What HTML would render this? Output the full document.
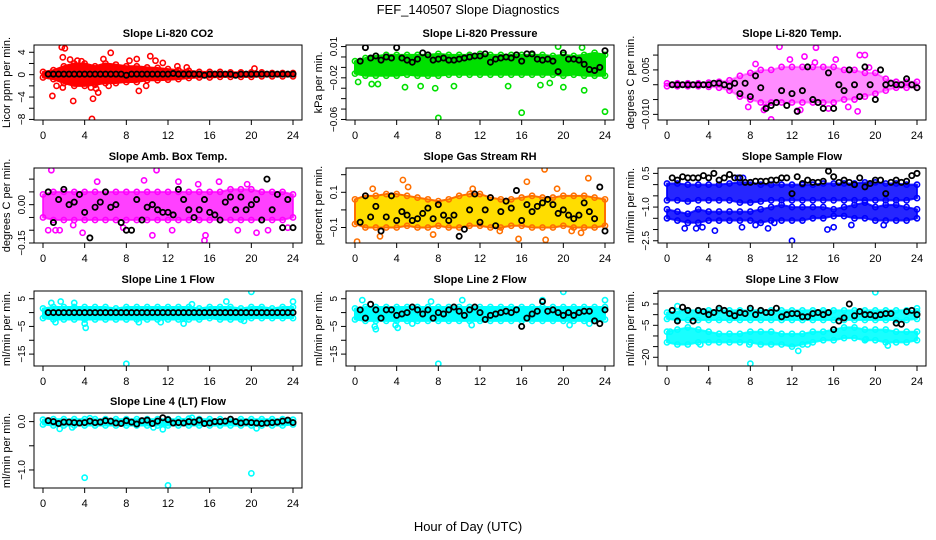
<!DOCTYPE html>
<html><head><meta charset="utf-8"><style>
html,body{margin:0;padding:0;background:#fff}
svg{display:block;font-family:"Liberation Sans",sans-serif}
</style></head><body>
<svg id="chart" width="936" height="540" viewBox="0 0 936 540">
<rect width="936" height="540" fill="#fff"/>
<text x="468" y="14" text-anchor="middle" font-size="13">FEF_140507  Slope Diagnostics</text>
<text x="468" y="531" text-anchor="middle" font-size="13">Hour of Day (UTC)</text>
</svg>
<script>
const bandHours=[0,1,2,3,4,5,6,7,8,9,10,11,12,13,14,15,16,17,18,19,20,21,22,23,24];
const blackHours=[0.5,1,1.5,2,2.5,3,3.5,4,4.5,5,5.5,6,6.5,7,7.5,8,8.5,9,9.5,10,10.5,11,11.5,12,12.5,13,13.5,14,14.5,15,15.5,16,16.5,17,17.5,18,18.5,19,19.5,20,20.5,21,21.5,22,22.5,23,23.5,24];
const xTicks=[0,4,8,12,16,20,24];

const co2Hi=[0.5,0.8,1.5,2,2,1.5,2,1.8,1.5,1.5,1.3,1.2,1,0.8,0.7,0.5,0.5,0.5,0.4,0.4,0.4,0.4,0.3,0.3,0.3];
const co2Lo=[-0.5,-0.8,-1.5,-2,-2,-1.8,-1.5,-1.5,-1.3,-1.3,-1,-1,-0.9,-0.8,-0.6,-0.5,-0.5,-0.4,-0.4,-0.4,-0.4,-0.3,-0.3,-0.3,-0.3];
const co2OutH=[1.8,2.1,1.9,0.9,2.9,4.7,4.8,4.6,5.1,5.3,5.8,6.5,6.3,8.3,9,9.2,9.9,10.3,10.8,11.5,1.3,3.3,3.7,2.6,1.9,12.9,13.8,20.3];
const co2OutV=[4.9,4.7,3.1,-3.8,-4.7,-7.9,-4.3,-2.3,-2.5,-3.2,2.8,3.9,-2,2.5,2.8,-2.9,-2,3.3,2.5,2.1,-2,2.5,2.4,2.7,-2.3,1.5,1.3,1.1];
const co2Black=[0.1,0.1,0.1,0.1,0.1,0.1,0.1,0.1,0.1,0.1,0.1,0.1,0.1,0.1,0.1,-0.1,0.1,0.1,0.1,0.1,0.1,0.1,0.1,0.1,0.2,0.1,0.1,0.1,0.1,0.1,-0.1,0.1,0.1,0.1,0.1,0.1,-0.1,0.1,0.1,0.1,0.1,0.1,0.1,0.1,0.1,0.1,0.1,0.1];

const presHi=[-0.004,-0.001,0.001,0.002,0.002,0.002,0.002,0.002,0.003,0.002,0.002,0.002,0.003,0.002,0.002,0.002,0.002,0.002,0.002,0.001,0.002,0.001,0.002,0.004,0.002];
const presLo=[-0.016,-0.018,-0.018,-0.018,-0.018,-0.017,-0.018,-0.018,-0.018,-0.017,-0.017,-0.017,-0.017,-0.017,-0.017,-0.017,-0.017,-0.017,-0.017,-0.017,-0.018,-0.017,-0.018,-0.018,-0.018];
const presOutH=[8,16,24,4.8,7.7,22,19.5,21.8,20,9.5,14.7,17.8,18.7,0.3,1.6,2.2,6.3];
const presOutV=[-0.0585,-0.0535,-0.0525,-0.029,-0.03,-0.032,0.01,0.009,-0.029,-0.028,-0.028,-0.027,-0.025,-0.024,-0.026,-0.026,-0.028];
const presBlack=[-0.004,0.009,-0.001,0.001,-0.003,0.000,-0.001,0.009,-0.001,-0.003,-0.005,-0.002,0.004,0.002,-0.003,-0.002,-0.001,-0.003,-0.003,-0.002,-0.001,0.000,0.001,0.001,0.003,-0.005,-0.002,-0.001,0.000,-0.001,0.002,-0.004,0.003,0.003,-0.002,-0.003,-0.002,-0.004,-0.014,0.004,-0.002,-0.002,-0.003,-0.007,-0.012,-0.013,-0.010,0.006];

const tempHi=[0.0005,0.0005,0.0005,0.0005,0.0007,0.001,0.0015,0.003,0.004,0.005,0.005,0.006,0.006,0.006,0.006,0.006,0.006,0.005,0.005,0.004,0.004,0.002,0.001,0.001,0.001];
const tempLo=[-0.0005,-0.0005,-0.0005,-0.0005,-0.0007,-0.001,-0.002,-0.004,-0.005,-0.006,-0.006,-0.006,-0.006,-0.006,-0.006,-0.006,-0.006,-0.005,-0.005,-0.004,-0.003,-0.002,-0.001,-0.001,-0.001];
const tempOutH=[10.8,14.3,18.5,19,10,18.3,12.5,7.8,9.5,13.2,16.2,11.8,14.2,9.3,17.4,19.4,15.5,8.5,12.8];
const tempOutV=[0.0128,0.0125,0.010,0.010,-0.0117,-0.009,-0.0088,-0.0075,-0.0075,0.0095,0.0085,0.0085,0.0075,-0.0085,-0.0075,0.0058,-0.008,0.007,-0.0085];
const tempBlack=[0,0,0,0,0,0,0,0,0.0005,0.0005,0,-0.0005,0.0005,-0.003,0.0005,-0.004,0.003,-0.001,-0.008,-0.007,-0.006,-0.002,-0.007,-0.003,-0.009,-0.002,0.006,-0.005,-0.006,-0.008,0.004,-0.008,0,-0.002,0.005,0,-0.004,0.006,0,-0.005,0.005,0,0.0005,0,0,0.002,0,-0.001];

const ambHi=[0.04,0.05,0.05,0.05,0.05,0.05,0.05,0.05,0.05,0.05,0.05,0.05,0.05,0.05,0.05,0.05,0.05,0.05,0.06,0.06,0.06,0.05,0.05,0.05,0.04];
const ambLo=[-0.05,-0.06,-0.06,-0.06,-0.06,-0.06,-0.06,-0.06,-0.06,-0.06,-0.06,-0.06,-0.06,-0.06,-0.06,-0.06,-0.06,-0.06,-0.06,-0.06,-0.06,-0.06,-0.06,-0.06,-0.05];
const ambOutH=[0.8,10.9,9.7,1.2,3.8,15.5,15.6,10.5,5.2,0.5,1.6,13,14.9,18.7,20.5,21.6,23.5,2.9,7.7,12.4,16.9,19.6];
const ambOutV=[0.135,0.135,0.095,-0.1,-0.11,-0.14,-0.12,-0.12,0.09,-0.1,-0.1,0.09,0.08,-0.1,-0.11,-0.1,-0.09,-0.08,-0.09,-0.1,0.09,0.08];
const ambBlack=[0.05,-0.07,0.02,0.06,0.0,0.01,0.04,-0.03,-0.13,-0.01,0.01,0.05,-0.01,0.0,-0.07,-0.1,-0.1,0.02,-0.06,-0.01,0.0,-0.02,-0.03,-0.03,-0.04,0.06,0.02,-0.02,-0.05,-0.02,0.02,-0.03,-0.04,-0.06,0.01,0.03,-0.02,0.03,-0.02,0.0,0.02,-0.06,0.1,-0.02,0.04,-0.09,0.02,-0.09];

const rhHi=[0.06,0.08,0.08,0.09,0.09,0.08,0.07,0.06,0.05,0.06,0.08,0.09,0.09,0.07,0.06,0.06,0.07,0.08,0.07,0.07,0.08,0.08,0.08,0.07,0.06];
const rhLo=[-0.08,-0.1,-0.1,-0.1,-0.1,-0.09,-0.1,-0.1,-0.09,-0.1,-0.1,-0.09,-0.09,-0.1,-0.1,-0.09,-0.09,-0.1,-0.1,-0.1,-0.09,-0.1,-0.1,-0.1,-0.09];
const rhOutH=[18.2,22.4,0.2,2.4,18.3,15.7,11.3,4.6,16.5,7.5,19.4,5.1,13.9,20.8,21.7,1.7];
const rhOutV=[0.23,0.18,-0.18,-0.15,-0.17,-0.165,0.12,0.17,0.16,-0.14,0.12,0.13,-0.12,-0.12,-0.13,0.12];
const rhBlack=[-0.07,0.08,-0.04,0.02,-0.12,-0.04,0.08,-0.06,-0.01,-0.03,-0.06,-0.05,-0.02,0.01,-0.05,0.03,-0.03,-0.06,-0.03,-0.15,-0.11,0.0,0.09,-0.07,0.0,0.07,-0.09,-0.01,0.05,0.01,0.11,-0.06,0.03,-0.01,0.02,0.04,0.06,0.03,-0.02,0.0,-0.03,-0.05,-0.03,0.04,-0.01,-0.05,0.13,-0.12];

const flowHi=[0.05,0.05,0.0,0.0,0.0,0.0,0.05,0.1,0.1,0.0,0.0,0.0,0.0,0.0,0.0,0.05,0.05,0.05,0.05,0.1,0.1,0.05,0.05,0.0,0.0];
const flowLo=[-0.7,-0.7,-0.75,-0.7,-0.7,-0.7,-0.7,-0.8,-0.8,-0.75,-0.7,-0.7,-0.7,-0.7,-0.7,-0.7,-0.7,-0.7,-0.7,-0.7,-0.7,-0.7,-0.7,-0.7,-0.6];
const flow2Hi=[-1.1,-1.2,-1.3,-1.1,-1.2,-1.2,-1.2,-1.2,-1.2,-1.1,-1.0,-0.9,-1.0,-1.0,-1.0,-1.0,-1.1,-1.0,-0.9,-0.8,-1.0,-0.9,-0.9,-1.0,-1.1];
const flow2Lo=[-1.5,-1.6,-1.7,-1.7,-1.6,-1.6,-1.6,-1.6,-1.6,-1.7,-1.6,-1.6,-1.6,-1.6,-1.5,-1.5,-1.4,-1.4,-1.5,-1.5,-1.6,-1.6,-1.6,-1.6,-1.5];
const flowOutH=[12,4.6,15.4,16,1.7,2.8,7.2,9.7,6.8,7.3,3.4,20.8,17.7,8.5,10.3];
const flowOutV=[-2.5,-2.05,-2.0,-1.9,-1.95,-1.95,-1.9,-1.95,0.3,0.3,-1.9,-1.8,-1.8,-1.8,-1.7];
const flowBlack=[0.3,0.2,0.35,0.3,0.3,0.3,0.4,0.3,0.5,0.2,0.3,0.45,0.3,0.3,0.1,0.1,0.15,0.15,0.15,0.2,0.2,0.3,0.3,-0.4,0.35,0.05,0.2,0.1,0.1,0.15,0.6,0.35,0.1,0.2,0.1,0.0,0.3,-0.1,0.05,0.2,0.2,-0.4,0.1,0.2,0.1,0.15,0.4,0.5];

const l1Hi=[1.5,2,2,2,2,2,2,1.5,2,2,2,2,2,2,2,1.5,2,2,2,1.5,2,2,1.5,2,2];
const l1Lo=[-2,-2.5,-2.5,-2.5,-2.5,-2.5,-2.5,-2.5,-2.5,-2.5,-2.5,-2.5,-2.5,-2.5,-2.5,-2.5,-2,-2.5,-2.5,-2.5,-2,-2,-2,-2,-2];
const l1OutH=[8,20,24,4,4.1,1.2,0.8,1.7,3,9.2,11.3,13.5,17.6,19.3,14.3];
const l1OutV=[-18.5,7.5,4,-4,-5.5,-3.5,3.5,4,3.5,-3.5,-3.5,-4,4,-3,3];
const l1Black=[0,0,0,0,0,0,0,0,0,0,0,0,0,0,0,0,0,0,0,0,0,0,0,0,0,0,0,0,0,0,0,0,0,0,0,0,0,0,0,0,0,0,0,0,0,0,0,0];

const l2Hi=[1.5,2,2,2,2,2,2,2,2,2,2,2,2,2,2,2,2,2,2,2,2,2,2,2,2];
const l2Lo=[-2.5,-3,-3,-3,-3,-3,-3,-3,-3,-3,-3,-3,-3,-3,-3,-3,-3,-3,-3,-3,-3,-3,-3,-3,-2.5];
const l2OutH=[8,20,24,0.7,1.9,2,3.9,4.1,10.3,22.5,20.6,18,7.3,5.5,11.2];
const l2OutV=[-18.5,7.5,4.5,4.5,-5,-6,-4.5,-5.5,4.5,-4,-4.5,4.5,4,-4,-4.5];
const l2Black=[1,-2,3,1,-2,1,1,-1,-0.5,0,2,1,-0.5,1,-2,0,-0.5,1,2,0.5,-1,1,2,0,-2.5,-1,-0.5,0,0.5,0,1,-5,-2,-0.5,0.5,4,0.5,1,0,-1,0,-1,0,0.5,0.5,-3,-4,1];

const l3Hi=[1,1.5,2,2,2,2,2,2,2,2,2,2,2,2,2,2,2,2,2,2,2,2,2,2,1.5];
const l3Lo=[-2,-2.5,-2.5,-2.5,-2.5,-2.5,-2.5,-2.5,-2.5,-2.5,-2.5,-2.5,-2.5,-2.5,-2.5,-2.5,-2.5,-2.5,-2.5,-2.5,-2.5,-2.5,-2.5,-2.5,-2];
const l32Hi=[-8,-7,-6,-7,-8,-9,-9,-9,-8,-8,-8,-9,-9,-9,-8,-8,-7,-6,-6,-7,-7,-7,-8,-8,-8];
const l32Lo=[-13,-14,-14,-13,-13,-13,-13,-13,-13,-14,-14,-14,-15,-14,-13,-12,-12,-11,-11,-12,-12,-13,-13,-13,-12];
const l3OutH=[8,20,1,3.2,24,12.6,13.5,7.9,21.2,19.1,0.3];
const l3OutV=[-23,10.5,4,-14,3,-17,-14,-14,-14.5,-11.5,-8];
const l3Black=[2,-3,3.5,2,-3,2,1.5,0,1,3,2,0.5,-0.5,1,0.5,3,0,2,1,1,3,-1,0,0.5,0.5,-1,-1,0.5,1,0,1,-7,-3,-1.5,5,-0.5,1.5,0,0,-0.5,0,0.5,0.5,-4,-4.5,1.5,2,0];

const l4Hi=[0.04,0.05,0.05,0.05,0.05,0.05,0.05,0.05,0.05,0.05,0.05,0.05,0.05,0.05,0.06,0.05,0.05,0.05,0.05,0.05,0.05,0.05,0.05,0.05,0.04];
const l4Lo=[-0.06,-0.08,-0.08,-0.08,-0.08,-0.08,-0.08,-0.08,-0.08,-0.08,-0.08,-0.08,-0.08,-0.08,-0.08,-0.08,-0.08,-0.08,-0.08,-0.08,-0.08,-0.08,-0.08,-0.08,-0.06];
const l4OutH=[4,12,20,1.6,2.8,11.5,20.5,10.6,4.5,14.3];
const l4OutV=[-1.16,-1.32,-1.07,-0.15,-0.12,-0.16,-0.14,-0.12,0.07,0.08];
const l4Black=[0.02,0,-0.04,-0.01,-0.01,-0.02,-0.03,-0.02,0.01,-0.02,-0.01,0.02,0.01,-0.03,-0.04,0.02,-0.01,-0.05,0.02,0.03,-0.04,0.01,0.08,0.04,-0.03,-0.02,-0.03,0.0,-0.01,0.03,-0.04,-0.03,0.0,0.0,0.01,0.05,0.0,-0.03,-0.01,-0.02,-0.03,-0.04,-0.03,-0.02,-0.01,0.01,0.03,-0.02];

const NS="http://www.w3.org/2000/svg";
const svg=document.getElementById('chart');
const colLeft=[34,346,658], rowTop=[45,168,291,413], boxW=268, boxH=75;

const panels=[
 {key:'co2',title:'Slope Li-820 CO2',ylab:'Licor ppm per min.',c:0,r:0,ymin:-8.1,ymax:5.3,ticks:[4,2,0,-2,-4,-6,-8],labels:[4,0,-4,-8],labTxt:['4','0','\u22124','\u22128'],color:'#ff0000',bands:[[co2Hi,co2Lo]],oh:co2OutH,ov:co2OutV,blk:co2Black},
 {key:'pressure',title:'Slope Li-820 Pressure',ylab:'kPa per min.',c:1,r:0,ymin:-0.0605,ymax:0.0115,ticks:[0.01,0,-0.01,-0.02,-0.03,-0.04,-0.05,-0.06],labels:[0.01,-0.02,-0.06],labTxt:['0.01','\u22120.02','\u22120.06'],color:'#00e000',bands:[[presHi,presLo]],oh:presOutH,ov:presOutV,blk:presBlack},
 {key:'temp',title:'Slope Li-820 Temp.',ylab:'degrees C per min.',c:2,r:0,ymin:-0.0119,ymax:0.0134,ticks:[0.01,0.005,0,-0.005,-0.01],labels:[0.005,-0.01],labTxt:['0.005','\u22120.010'],color:'#ff00ff',bands:[[tempHi,tempLo]],op:0.45,oh:tempOutH,ov:tempOutV,blk:tempBlack},
 {key:'amb-box-temp',title:'Slope Amb. Box Temp.',ylab:'degrees C per min.',c:0,r:1,ymin:-0.15,ymax:0.1435,ticks:[0.1,0.05,0,-0.05,-0.1,-0.15],labels:[0,-0.15],labTxt:['0.00','\u22120.15'],color:'#ff00ff',bands:[[ambHi,ambLo]],op:0.75,oh:ambOutH,ov:ambOutV,blk:ambBlack},
 {key:'gas-rh',title:'Slope Gas Stream RH',ylab:'percent per min.',c:1,r:1,ymin:-0.188,ymax:0.238,ticks:[0.2,0.1,0,-0.1],labels:[0.1,-0.1],labTxt:['0.1','\u22120.1'],color:'#ff7000',fill:'#ffdd00',bands:[[rhHi,rhLo]],oh:rhOutH,ov:rhOutV,blk:rhBlack},
 {key:'sample-flow',title:'Slope Sample Flow',ylab:'ml/min per min.',c:2,r:1,ymin:-2.6,ymax:0.74,ticks:[0.5,0,-0.5,-1,-1.5,-2,-2.5],labels:[0.5,-1,-2.5],labTxt:['0.5','\u22121.0','\u22122.5'],color:'#0000ff',bands:[[flowHi,flowLo],[flow2Hi,flow2Lo]],op:0.85,oh:flowOutH,ov:flowOutV,blk:flowBlack},
 {key:'line1-flow',title:'Slope Line 1 Flow',ylab:'ml/min per min.',c:0,r:2,ymin:-19.3,ymax:7.8,ticks:[5,0,-5,-10,-15],labels:[5,-5,-15],labTxt:['5','\u22125','\u221215'],color:'#00ffff',bands:[[l1Hi,l1Lo]],oh:l1OutH,ov:l1OutV,blk:l1Black},
 {key:'line2-flow',title:'Slope Line 2 Flow',ylab:'ml/min per min.',c:1,r:2,ymin:-19.3,ymax:7.8,ticks:[5,0,-5,-10,-15],labels:[5,-5,-15],labTxt:['5','\u22125','\u221215'],color:'#00ffff',bands:[[l2Hi,l2Lo]],oh:l2OutH,ov:l2OutV,blk:l2Black},
 {key:'line3-flow',title:'Slope Line 3 Flow',ylab:'ml/min per min.',c:2,r:2,ymin:-24.1,ymax:11.1,ticks:[10,5,0,-5,-10,-15,-20],labels:[5,-5,-20],labTxt:['5','\u22125','\u221220'],color:'#00ffff',bands:[[l3Hi,l3Lo],[l32Hi,l32Lo]],op:0.9,oh:l3OutH,ov:l3OutV,blk:l3Black},
 {key:'line4-flow',title:'Slope Line 4 (LT) Flow',ylab:'ml/min per min.',c:0,r:3,ymin:-1.373,ymax:0.178,ticks:[0,-0.5,-1],labels:[0,-1],labTxt:['0.0','\u22121.0'],color:'#00ffff',bands:[[l4Hi,l4Lo]],oh:l4OutH,ov:l4OutV,blk:l4Black}
];

function mk(tag,attrs,parent){const e=document.createElementNS(NS,tag);for(const k in attrs)e.setAttribute(k,attrs[k]);(parent||svg).appendChild(e);return e;}

panels.forEach(p=>{
  const L=colLeft[p.c],T=rowTop[p.r],B=T+boxH;
  const xs=h=>L+9+h*(boxW-18)/24;
  const ys=v=>T+(p.ymax-v)/(p.ymax-p.ymin)*boxH;
  const g=mk('g',{});
  
  
  const clip=mk('clipPath',{id:'clip-'+p.key},g);
  mk('rect',{x:L,y:T,width:boxW,height:boxH},clip);
  const plot=mk('g',{'clip-path':'url(#clip-'+p.key+')'},g);
  
  
  p.bands.forEach((bd,bi)=>{
    const hi=bd[0],lo=bd[1];
    let pts=[];
    bandHours.forEach((h,i)=>pts.push(xs(h)+','+ys(hi[i])));
    for(let i=bandHours.length-1;i>=0;i--)pts.push(xs(bandHours[i])+','+ys(lo[i]));
    const poly=mk('polygon',{points:pts.join(' '),fill:p.fill||p.color,'fill-opacity':p.op||1,stroke:p.color,'stroke-width':2,'stroke-opacity':p.op||1,'stroke-linejoin':'round'},plot);
    
    
    bandHours.forEach((h,i)=>{
      [hi[i],lo[i]].forEach(v=>{
        const c=mk('circle',{cx:xs(h),cy:ys(v),r:2.6,fill:'none',stroke:p.color,'stroke-width':1.6},plot);
        
        
      });
    });
  });
  p.oh.forEach((h,i)=>{
    const c=mk('circle',{cx:xs(h),cy:ys(p.ov[i]),r:2.6,fill:'none',stroke:p.color,'stroke-width':1.6},plot);
    
    
  });
  blackHours.forEach((h,i)=>{
    const c=mk('circle',{cx:xs(h),cy:ys(p.blk[i]),r:2.6,fill:'none',stroke:'#000','stroke-width':1.8},plot);
    
    
  });
  const box=mk('rect',{x:L,y:T,width:boxW,height:boxH,fill:'none',stroke:'#000','stroke-width':1},g);
  
  
  mk('line',{x1:xs(0),x2:xs(24),y1:B,y2:B,stroke:'#000'},g);
  xTicks.forEach(t=>{
    mk('line',{x1:xs(t),x2:xs(t),y1:B,y2:B+5,stroke:'#000'},g);
    const tx=mk('text',{x:xs(t),y:B+19,'text-anchor':'middle','font-size':11},g);
    tx.textContent=t;
    
    
  });
  const tmin=Math.min(...p.ticks),tmax=Math.max(...p.ticks);
  mk('line',{x1:L,x2:L,y1:ys(tmax),y2:ys(tmin),stroke:'#000'},g);
  p.ticks.forEach(t=>mk('line',{x1:L-5,x2:L,y1:ys(t),y2:ys(t),stroke:'#000'},g));
  p.labels.forEach((t,i)=>{
    const y=ys(t),x=L-9;
    const tx=mk('text',{x:x,y:y,'text-anchor':'middle','font-size':10,transform:'rotate(-90 '+x+' '+y+')'},g);
    tx.textContent=p.labTxt[i];
    
    
  });
  const yx=L-24,yy=T+boxH/2;
  const yl=mk('text',{x:yx,y:yy,'text-anchor':'middle','font-size':11,transform:'rotate(-90 '+yx+' '+yy+')'},g);
  yl.textContent=p.ylab;
  
  
  const ti=mk('text',{x:L+boxW/2,y:T-8,'text-anchor':'middle','font-size':11,'font-weight':'bold'},g);
  ti.textContent=p.title;
  
  
});
</script>
</body></html>
